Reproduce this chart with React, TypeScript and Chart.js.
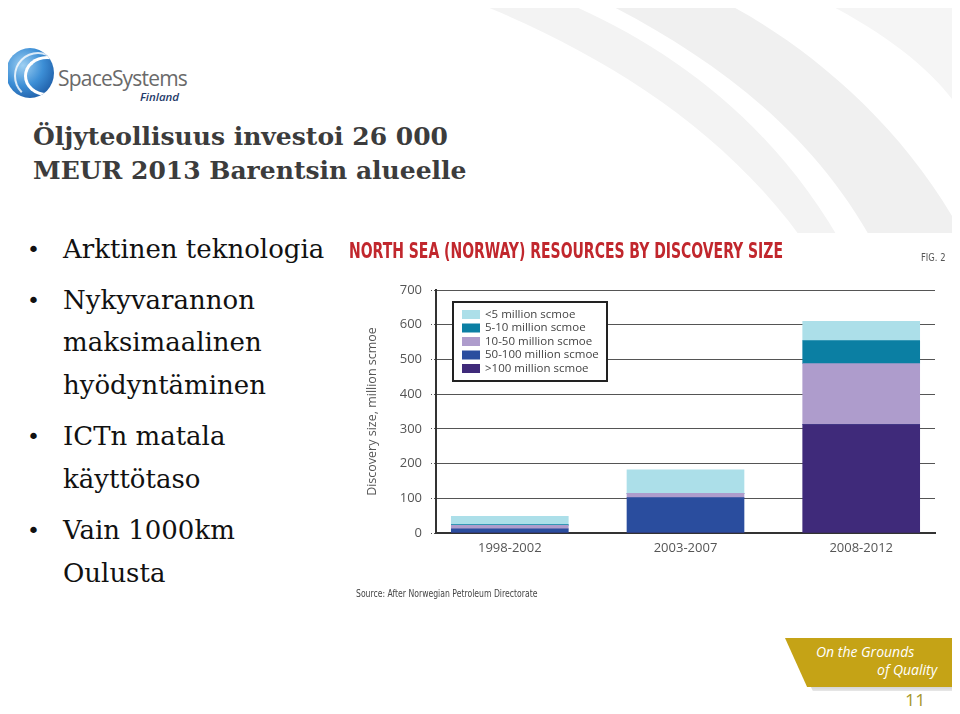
import React, { useEffect, useRef } from "react";
import { Chart, registerables } from "chart.js";

Chart.register(...registerables);

const categories = ["1998-2002", "2003-2007", "2008-2012"];
const seriesLabels = [">100 million scmoe", "50-100 million scmoe", "10-50 million scmoe", "5-10 million scmoe", "<5 million scmoe"];
const over100 = [0, 0, 312];
const from50to100 = [12, 102, 0];
const from10to50 = [10, 12, 176];
const from5to10 = [2, 0, 66];
const under5 = [24, 68, 56];
const seriesColors = ["#3f2a7a", "#2a4d9e", "#ae9ccc", "#0b7fa3", "#acdfe9"];
const yTicks = [0, 100, 200, 300, 400, 500, 600, 700];

const chartFont = "'Open Sans', 'DejaVu Sans', sans-serif";
const condensed = "'DejaVu Sans Condensed', 'Liberation Sans Narrow', sans-serif";

const insideLegend = {
  id: "insideLegend",
  afterDatasetsDraw(chart: any) {
    const { ctx, chartArea } = chart;
    const x0 = chartArea.left + 17;
    const y0 = chartArea.top + 12;
    const w = 154;
    const h = 79;
    ctx.save();
    ctx.fillStyle = "#ffffff";
    ctx.fillRect(x0, y0, w, h);
    ctx.strokeStyle = "#222";
    ctx.lineWidth = 2;
    ctx.strokeRect(x0, y0, w, h);
    const ds = chart.data.datasets.slice().reverse();
    ctx.font = "11.5px " + chartFont;
    ctx.textBaseline = "middle";
    ds.forEach((d: any, i: number) => {
      const cy = y0 + 12.5 + i * 13.5;
      ctx.fillStyle = d.backgroundColor;
      ctx.fillRect(x0 + 9, cy - 4.5, 18, 9);
      ctx.fillStyle = "#444";
      ctx.fillText(d.label, x0 + 32, cy);
    });
    ctx.restore();
  },
};

function BarChart() {
  const ref = useRef<HTMLCanvasElement>(null);
  useEffect(() => {
    if (!ref.current) return;
    const seriesData = [over100, from50to100, from10to50, from5to10, under5];
    const chart = new Chart(ref.current, {
      type: "bar",
      data: {
        datasets: seriesData.map((vals, si) => ({
          label: seriesLabels[si],
          data: vals.map((v, i) => ({ x: i, y: v })),
          backgroundColor: seriesColors[si],
          borderWidth: 0,
          barThickness: 117,
        })),
      },
      options: {
        animation: false,
        responsive: false,
        maintainAspectRatio: false,
        layout: { padding: { top: 57, right: 25, left: 0, bottom: 0 } },
        plugins: { legend: { display: false }, tooltip: { enabled: false }, title: { display: false } },
        scales: {
          x: {
            type: "linear",
            stacked: true,
            offset: false,
            min: -0.42,
            max: 2.42,
            afterBuildTicks: (scale: any) => {
              scale.ticks = categories.map((_, i) => ({ value: i }));
            },
            afterFit: (scale: any) => {
              scale.height = 72;
            },
            ticks: {
              autoSkip: false,
              maxRotation: 0,
              padding: 7,
              color: "#555",
              font: { family: chartFont, size: 13 },
              callback: (v: any) => categories[v as number] ?? "",
            },
            grid: { display: false, drawTicks: false, offset: false },
            border: { display: true, color: "#333", width: 2 },
          },
          y: {
            stacked: true,
            min: 0,
            max: 700,
            afterBuildTicks: (scale: any) => {
              scale.ticks = yTicks.map((v) => ({ value: v }));
            },
            afterFit: (scale: any) => {
              scale.width = 93;
            },
            ticks: {
              padding: 9,
              color: "#555",
              font: { family: chartFont, size: 13 },
            },
            grid: {
              color: (c: any) => (c.tick && c.tick.value === 0 ? "rgba(0,0,0,0)" : "#555"),
              lineWidth: 1,
              borderDash: [1, 2],
              tickLength: 5,
              tickColor: "#555",
              tickBorderDash: [1, 2],
            },
            border: { display: true, color: "#333", width: 2 },
            title: {
              display: true,
              text: "Discovery size, million scmoe",
              color: "#555",
              font: { family: chartFont, size: 12.5 },
              padding: { top: 22, bottom: 0 },
            },
          },
        },
      },
      plugins: [insideLegend],
    });
    return () => chart.destroy();
  }, []);
  return <canvas ref={ref} width={617} height={372} style={{ display: "block", width: 617, height: 372 }} />;
}

const serif = "'DejaVu Serif', 'Liberation Serif', serif";

function Line({ top, left, size, bold, text, color }: any) {
  return (
    <div
      style={{
        position: "absolute",
        left,
        top: top - size * 0.6,
        height: size * 1.2,
        lineHeight: size * 1.2 + "px",
        fontSize: size,
        fontFamily: serif,
        fontWeight: bold ? 700 : 400,
        color: color || "#111",
        whiteSpace: "nowrap",
      }}
    >
      {text}
    </div>
  );
}

export default function App() {
  const bulletLines = [
    { y: 250, t: "Arktinen teknologia", b: true },
    { y: 301, t: "Nykyvarannon", b: true },
    { y: 343, t: "maksimaalinen", b: false },
    { y: 386, t: "hyödyntäminen", b: false },
    { y: 437, t: "ICTn matala", b: true },
    { y: 480, t: "käyttötaso", b: false },
    { y: 531, t: "Vain 1000km", b: true },
    { y: 574, t: "Oulusta", b: false },
  ];
  return (
    <div style={{ position: "relative", width: 960, height: 714, margin: -8, overflow: "hidden", background: "#fff" }}>
      <svg width={960} height={714} style={{ position: "absolute", left: 0, top: 0 }}>
        <path d="M470 0 C 620 60, 760 150, 840 300 L 870 300 C 800 140, 680 50, 560 0 Z" fill="#f3f3f3" />
        <path d="M600 0 C 760 80, 900 200, 930 420 L 960 420 L 960 230 C 900 120, 800 40, 720 0 Z" fill="#f0f0f0" />
        <path d="M820 0 C 900 40, 940 80, 960 110 L 960 0 Z" fill="#f5f5f5" />
      </svg>

      {/* logo */}
      <div
        style={{
          position: "absolute",
          left: 6,
          top: 48,
          width: 48,
          height: 50,
          borderRadius: "50%",
          background: "radial-gradient(circle at 35% 35%, #9fd0f2 0%, #3d8fd6 45%, #1f5ea8 80%, #17457f 100%)",
          overflow: "hidden",
        }}
      >
        <div style={{ position: "absolute", left: 18, top: 8, width: 40, height: 34, borderRadius: "50%", border: "3px solid #fff", borderRightColor: "transparent" }} />
        <div style={{ position: "absolute", left: 8, top: 4, width: 44, height: 44, borderRadius: "50%", border: "2px solid rgba(255,255,255,0.8)", borderRightColor: "transparent", borderBottomColor: "transparent" }} />
      </div>
      <div style={{ position: "absolute", left: 58, top: 64, fontFamily: "'Open Sans', sans-serif", fontSize: 21, letterSpacing: -0.8, color: "#6a6a6a", lineHeight: "28px" }}>
        SpaceSystems
      </div>
      <div style={{ position: "absolute", left: 140, top: 89, fontFamily: "'Open Sans', sans-serif", fontStyle: "italic", fontWeight: 600, fontSize: 11.5, color: "#1f3b6a", lineHeight: "15px" }}>
        Finland
      </div>

      {/* title */}
      <Line top={137} left={33} size={25} bold text="Öljyteollisuus investoi 26 000" color="#3c3c3c" />
      <Line top={171} left={33} size={25} bold text="MEUR 2013 Barentsin alueelle" color="#3c3c3c" />

      {bulletLines.map((l, i) => (
        <React.Fragment key={i}>
          {l.b && (
            <div style={{ position: "absolute", left: 27, top: l.y - 14, fontSize: 22, lineHeight: "28px", fontFamily: "'DejaVu Sans', sans-serif", color: "#111" }}>•</div>
          )}
          <Line top={l.y} left={63} size={26} text={l.t} />
        </React.Fragment>
      ))}

      {/* chart image */}
      <div style={{ position: "absolute", left: 343, top: 233, width: 617, height: 372, background: "#fff" }}>
        <BarChart />
        <div
          style={{
            position: "absolute",
            left: 6,
            top: 6,
            fontFamily: condensed,
            fontWeight: 700,
            fontSize: 21,
            lineHeight: "24px",
            color: "#c1272d",
            whiteSpace: "nowrap",
            transform: "scaleX(0.74)",
            transformOrigin: "left center",
          }}
        >
          NORTH SEA (NORWAY) RESOURCES BY DISCOVERY SIZE
        </div>
        <div style={{ position: "absolute", left: 578, top: 18, fontFamily: condensed, fontSize: 11, color: "#555", lineHeight: "14px", transform: "scaleX(0.85)", transformOrigin: "left center" }}>
          FIG. 2
        </div>
        <div style={{ position: "absolute", left: 13, top: 354, fontFamily: condensed, fontSize: 11, color: "#444", lineHeight: "14px", whiteSpace: "nowrap", transform: "scaleX(0.78)", transformOrigin: "left center" }}>
          Source: After Norwegian Petroleum Directorate
        </div>
      </div>

      {/* banner */}
      <div style={{ position: "absolute", left: 789, top: 641, width: 170, height: 50, background: "rgba(0,0,0,0.18)", filter: "blur(3px)", clipPath: "polygon(0 0, 100% 0, 100% 100%, 14% 100%)" }} />
      <div style={{ position: "absolute", left: 785, top: 638, width: 170, height: 49, background: "#c5a316", clipPath: "polygon(0 0, 100% 0, 100% 100%, 13% 100%)" }} />
      <div style={{ position: "absolute", left: 816, top: 643, fontFamily: "'Open Sans', sans-serif", fontStyle: "italic", fontSize: 14, color: "#fff", lineHeight: "18px", whiteSpace: "nowrap" }}>
        On the Grounds
      </div>
      <div style={{ position: "absolute", left: 877, top: 661, fontFamily: "'Open Sans', sans-serif", fontStyle: "italic", fontSize: 14, color: "#fff", lineHeight: "18px", whiteSpace: "nowrap" }}>
        of Quality
      </div>
      <div style={{ position: "absolute", left: 905, top: 690, height: 20, fontFamily: "'Open Sans', sans-serif", fontSize: 18, color: "#a8992e", lineHeight: "20px" }}>
        11
      </div>
    </div>
  );
}
